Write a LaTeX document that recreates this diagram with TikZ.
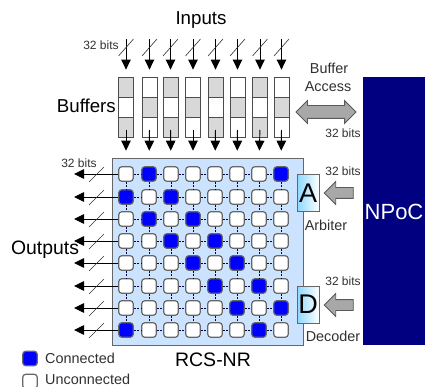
\documentclass[tikz,border=0pt]{standalone}
\usepackage{fontspec}
\setmainfont{Liberation Sans}
\usetikzlibrary{arrows.meta,shapes.arrows,calc}
\definecolor{panelblue}{HTML}{CBE3FF}
\definecolor{cellblue}{HTML}{0000FF}
\definecolor{npocblue}{HTML}{000080}
\definecolor{blockgray}{HTML}{A8A8A8}
\definecolor{bufgray}{HTML}{D8D8D8}
\definecolor{smalltext}{HTML}{303030}
\tikzset{
  x=1pt,y=-1pt,
  big/.style={font=\fontsize{18.7}{20}\selectfont,inner sep=0pt},
  small/.style={font=\fontsize{12}{13}\selectfont,text=smalltext,inner sep=0pt},
  mid/.style={font=\fontsize{14.4}{15}\selectfont,text=smalltext,inner sep=0pt},
  cellbase/.style={draw=black!60,line width=1.2pt,rounded corners=3pt,minimum size=14.5pt,inner sep=0pt},
  cellon/.style={cellbase,fill=cellblue},
  celloff/.style={cellbase,fill=white},
  bufcell/.style={draw=black!70,line width=0.8pt,minimum width=15pt,minimum height=20pt,inner sep=0pt},
  flow/.style={-{Triangle[length=10pt,width=9.5pt]},line width=0.9pt,black},
  slash/.style={line width=0.6pt,black!80},
  gridlink/.style={dash pattern=on 2pt off 1.5pt,line width=0.8pt,black!75!blue},
  blockarrow/.style={single arrow,draw=black!65,fill=blockgray,line width=0.8pt,inner sep=5pt,single arrow head extend=6pt,minimum height=29pt,shape border rotate=180},
  sidebox/.style={draw=black!60,line width=0.8pt,left color=blue!35!cyan!45,right color=white,minimum width=22pt,minimum height=37pt,inner sep=0pt,font=\fontsize{27}{28}\selectfont},
}
\begin{document}
\begin{tikzpicture}
\useasboundingbox (0,0) rectangle (425,387);
\node[draw=black!60,line width=1pt,fill=panelblue,minimum width=191pt,minimum height=186pt,inner sep=0pt] (panel) at (207.5,252) {};
\node[fill=npocblue,minimum width=62pt,minimum height=268pt,inner sep=0pt,anchor=north west] (npoc) at (363,77) {};
\node[anchor=west,text=white,inner sep=0pt,font=\fontsize{22}{23}\selectfont] (npoclabel) at (364.5,212) {NPoC};
% buffers
\foreach \i/\x in {1/126,2/149.5,3/170.5,4/193,5/215.5,6/237.5,7/260,8/281.5}{
  \pgfmathtruncatemacro{\odd}{mod(\i,2)}
  \ifnum\odd=1
    \node[bufcell,fill=bufgray] (buf-\i-1) at (\x,87) {};
    \node[bufcell,fill=white] (buf-\i-2) at (\x,107) {};
    \node[bufcell,fill=bufgray] (buf-\i-3) at (\x,127) {};
  \else
    \node[bufcell,fill=white] (buf-\i-1) at (\x,87) {};
    \node[bufcell,fill=bufgray] (buf-\i-2) at (\x,107) {};
    \node[bufcell,fill=white] (buf-\i-3) at (\x,127) {};
  \fi
  \coordinate (top-\i) at (\x,39);
  \draw[flow,shorten >=7pt] (top-\i) -- (buf-\i-1.north);
  \draw[slash] ([shift={(-7.5,17)}]top-\i) -- ([shift={(7.5,0)}]top-\i);
}
% cells
\foreach \r/\y/\a/\b in {1/174/2/8,2/197/1/3,3/219/2/4,4/241/3/5,5/263/4/6,6/286/5/7,7/308/6/8,8/330/1/7}{
  \foreach \c/\x in {1/126,2/149,3/171,4/193,5/215,6/237,7/259,8/281}{
    \pgfmathtruncatemacro{\on}{(\c==\a)||(\c==\b)}
    \ifnum\on=1
      \node[cellon] (c-\r-\c) at (\x,\y) {};
    \else
      \node[celloff] (c-\r-\c) at (\x,\y) {};
    \fi
  }
  \coordinate (out-\r) at (74,\y);
  \draw[flow] (c-\r-1.west) -- (out-\r);
  \draw[slash] ([shift={(15,8)}]out-\r) -- ([shift={(30,-7)}]out-\r);
}
% grid links
\foreach \r in {1,...,8}{
  \foreach \c [evaluate=\c as \n using int(\c+1)] in {1,...,7}{
    \draw[gridlink] (c-\r-\c.east) -- (c-\r-\n.west);
  }
}
\foreach \c in {1,...,8}{
  \foreach \r [evaluate=\r as \n using int(\r+1)] in {1,...,7}{
    \draw[gridlink] (c-\r-\c.south) -- (c-\n-\c.north);
  }
}
% buffer to crossbar arrows
\foreach \i in {1,...,8}{
  \draw[flow,shorten <=3pt,shorten >=15.5pt] (buf-\i-3.center) -- (c-1-\i.north);
}
% side boxes
\node[sidebox] (arb) at (308,193) {A};
\node[sidebox] (dec) at (308,304.5) {D};
\node[blockarrow] (arbin) at (341.5,193) {};
\node[blockarrow] (decin) at (341.5,305) {};
\node[double arrow,draw=black!65,fill=blockgray,line width=0.8pt,inner sep=6pt,double arrow head extend=5pt,minimum height=60pt] (bufacc) at (326,112) {};
% labels
\node[big] (inputs) at (201,20) {Inputs};
\node[big,anchor=east] (buffers) at (116,106) {Buffers};
\node[big,font=\fontsize{19.4}{20}\selectfont] (outputs) at (45,250) {Outputs};
\node[small] (bits-top) at (101,45) {32 bits};
\node[small] (bits-left) at (79,163) {32 bits};
\node[small] (bits-acc) at (343,133) {32 bits};
\node[small] (bits-arb) at (343,171) {32 bits};
\node[small] (bits-dec) at (343,281) {32 bits};
\node[mid] (lab-buffer) at (329,68) {Buffer};
\node[mid] (lab-access) at (328,87) {Access};
\node[mid] (lab-arb) at (326,225) {Arbiter};
\node[mid] (lab-dec) at (333,336) {Decoder};
\node[font=\fontsize{19.5}{20}\selectfont,inner sep=0pt] (lab-rcs) at (213,360) {RCS-NR};
% legend
\node[cellon] (leg-on) at (30,358.5) {};
\node[celloff] (leg-off) at (30,381.5) {};
\node[mid,anchor=west] (lab-on) at (45,358.5) {Connected};
\node[mid,anchor=west] (lab-off) at (45,379) {Unconnected};
\end{tikzpicture}
\end{document}
